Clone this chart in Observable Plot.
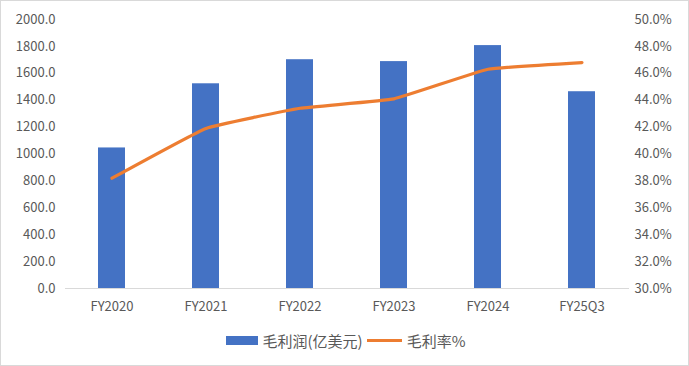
<!DOCTYPE html>
<html><head><meta charset="utf-8">
<script src="https://cdn.jsdelivr.net/npm/d3@7"></script>
<script src="https://cdn.jsdelivr.net/npm/@observablehq/plot@0.6"></script>
<style>
body{margin:0;background:#fff;}
#wrap{width:689px;height:366px;box-sizing:border-box;border:1px solid #d9d9d9;position:relative;overflow:hidden;font-family:"Noto Sans CJK SC","Noto Sans",sans-serif;}
#legend{position:absolute;top:329px;left:0;width:689px;display:flex;justify-content:center;align-items:center;font-size:15px;color:#595959;}
.sw{display:inline-block;margin-right:5px;}
</style></head>
<body><div id="wrap"><div id="chart"></div><div id="legend">
<span class="sw" style="width:32px;height:9px;background:#4472C4"></span><span>毛利润(亿美元)</span>
<span class="sw" style="width:35px;height:3px;background:#ED7D31;margin-left:4px"></span><span>毛利率%</span>
</div></div>
<script>
const categories = ["FY2020","FY2021","FY2022","FY2023","FY2024","FY25Q3"];
const grossProfit = [1045, 1522, 1701, 1687, 1806, 1463];
const grossMargin = [38.2, 41.9, 43.4, 44.1, 46.3, 46.8];
const leftTicks = d3.range(0, 2001, 200);
const rightTicks = d3.range(30, 50.01, 2);

const toLeft = p => (p - 30) / 20 * 2000;
const toRight = v => v / 2000 * 20 + 30;

const bars = categories.map((c, i) => ({c, v: grossProfit[i]}));
const line = categories.map((c, i) => ({c, v: toLeft(grossMargin[i])}));

const plot = Plot.plot({
  width: 687, height: 320,
  marginLeft: 64, marginRight: 59, marginTop: 18, marginBottom: 33,
  style: {fontFamily: '"Noto Sans CJK SC","Noto Sans",sans-serif', fontSize: "13px", color: "#595959", background: "transparent"},
  x: {domain: categories, paddingInner: 0.71, paddingOuter: 0.355, align: 0.5, label: null},
  y: {domain: [0, 2000], label: null},
  marks: [
    Plot.axisY({anchor: "left", ticks: leftTicks, tickFormat: d => d.toFixed(1), tickSize: 0, tickPadding: 10, label: null}),
    Plot.axisY({anchor: "right", ticks: rightTicks.map(toLeft), tickFormat: d => toRight(d).toFixed(1) + "%", tickSize: 0, tickPadding: 5, label: null, textAnchor: "start"}),
    Plot.axisX({tickSize: 0, tickPadding: 13, label: null}),
    Plot.barY(bars, {x: "c", y: "v", fill: "#4472C4"}),
    Plot.ruleY([0], {stroke: "#d9d9d9", strokeWidth: 1}),
    Plot.line(line, {x: "c", y: "v", stroke: "#ED7D31", strokeWidth: 3.2, curve: "cardinal", tension: 0.7, strokeLinecap: "round"})
  ]
});
document.getElementById("chart").appendChild(plot);
</script></body></html>
